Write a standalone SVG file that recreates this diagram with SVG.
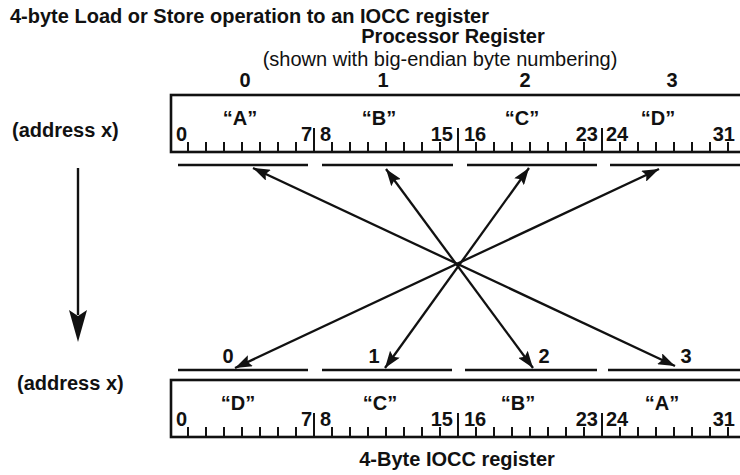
<svg xmlns="http://www.w3.org/2000/svg" width="740" height="475" viewBox="0 0 740 475">
<style>
text{font-family:"Liberation Sans",Arial,Helvetica,sans-serif;fill:#111;font-size:20px}
.b{font-weight:bold}
.m{text-anchor:middle}
.e{text-anchor:end}
.box{fill:none;stroke:#111;stroke-width:2.6}
.tk{stroke:#111;stroke-width:2}
.seg{stroke:#111;stroke-width:2.6}
.ar{stroke:#111;stroke-width:2.3;fill:none;marker-start:url(#ah);marker-end:url(#ah)}
</style>
<defs>
<marker id="ah" markerUnits="userSpaceOnUse" viewBox="0 0 17 12" refX="17" refY="6" markerWidth="17" markerHeight="12" orient="auto-start-reverse">
<path d="M0,0 L17,6 L0,12 L3,6 z" fill="#111"/>
</marker>
<g id="ticks">
<path class="tk" d="M188,142V152M206,142V152M224,142V152M242,142V152M260,142V152M278,142V152M296,142V152M314,128V152M332,142V152M350,142V152M368,142V152M386,142V152M404,142V152M422,142V152M440,142V152M458,128V152M476,142V152M494,142V152M512,142V152M530,142V152M548,142V152M566,142V152M584,142V152M602,128V152M620,142V152M638,142V152M656,142V152M674,142V152M692,142V152M710,142V152M728,142V152M746,128V152"/>
</g>
</defs>
<g id="titles">
<text class="b" x="10" y="23">4-byte Load or Store operation to an IOCC register</text>
<text class="b m" x="453" y="43">Processor Register</text>
<text class="m" x="440" y="66">(shown with big-endian byte numbering)</text>
<text class="b m" x="457" y="466">4-Byte IOCC register</text>
</g>
<g id="proc-register">
<text class="b m" x="245" y="87">0</text>
<text class="b m" x="383" y="87">1</text>
<text class="b m" x="525" y="87">2</text>
<text class="b m" x="672" y="87">3</text>
<rect class="box" x="171" y="95" width="600" height="57"/>
<use href="#ticks"/>
<text class="b m" x="240" y="125">“A”</text>
<text class="b m" x="379" y="125">“B”</text>
<text class="b m" x="522" y="125">“C”</text>
<text class="b m" x="658" y="125">“D”</text>
<text class="b" x="176" y="141">0</text>
<text class="b e" x="312" y="141">7</text>
<text class="b" x="320" y="141">8</text>
<text class="b e" x="453" y="141">15</text>
<text class="b" x="464" y="141">16</text>
<text class="b e" x="598" y="141">23</text>
<text class="b" x="606" y="141">24</text>
<text class="b e" x="735" y="141">31</text>
<path class="seg" d="M178,165H308M322,165H453M467,165H597M610,165H745"/>
</g>
<g id="iocc-register">
<text class="b m" x="228" y="363">0</text>
<text class="b m" x="374" y="363">1</text>
<text class="b m" x="544" y="363">2</text>
<text class="b m" x="686" y="363">3</text>
<path class="seg" d="M178,370H308M322,370H452M465,370H597M608,370H745"/>
<rect class="box" x="171" y="380" width="600" height="57"/>
<use href="#ticks" y="285"/>
<text class="b m" x="238" y="410">“D”</text>
<text class="b m" x="380" y="410">“C”</text>
<text class="b m" x="518" y="410">“B”</text>
<text class="b m" x="662" y="410">“A”</text>
<text class="b" x="176" y="426">0</text>
<text class="b e" x="312" y="426">7</text>
<text class="b" x="320" y="426">8</text>
<text class="b e" x="453" y="426">15</text>
<text class="b" x="464" y="426">16</text>
<text class="b e" x="598" y="426">23</text>
<text class="b" x="606" y="426">24</text>
<text class="b e" x="735" y="426">31</text>
</g>
<g id="address-labels">
<text class="b" x="12" y="137">(address x)</text>
<text class="b" x="17" y="390">(address x)</text>
</g>
<g id="connectors">
<line class="ar" x1="253" y1="168" x2="675" y2="366"/>
<line class="ar" x1="386" y1="169" x2="533" y2="368"/>
<line class="ar" x1="529" y1="168" x2="385" y2="368"/>
<line class="ar" x1="659" y1="169" x2="235" y2="368"/>
<line x1="78" y1="168" x2="78" y2="315" stroke="#111" stroke-width="2.4"/>
<path d="M69,310 L78,342 L87,310 L78,316 z" fill="#111"/>
</g>
</svg>
